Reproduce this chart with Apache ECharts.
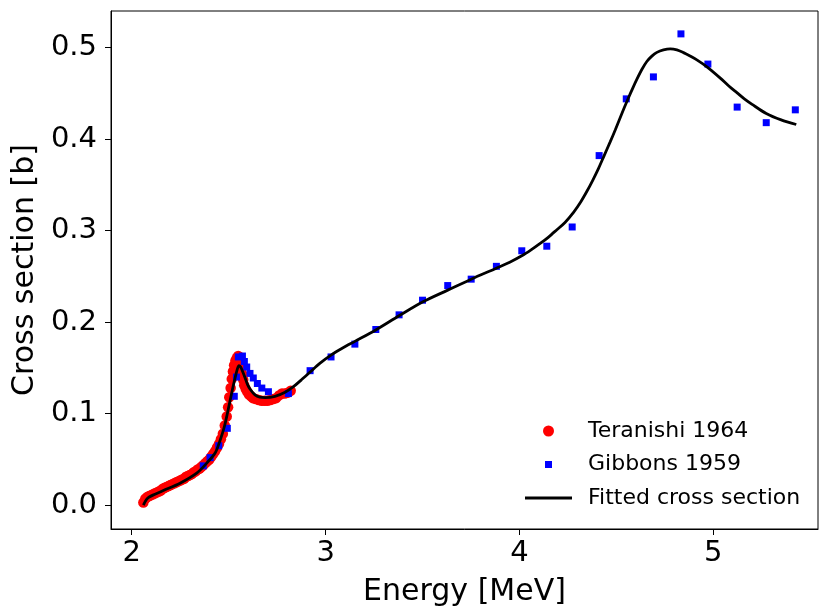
<!DOCTYPE html>
<html>
<head>
<meta charset="utf-8">
<script src="https://cdn.jsdelivr.net/npm/echarts@6/dist/echarts.min.js"></script>
<style>
  html, body { margin: 0; padding: 0; background: #fff; }
  #chart { width: 819px; height: 608px; }
</style>
</head>
<body>
<div id="chart"></div>
<script>
// Teranishi 1964 (red circles)
const teranishiE = [2.060, 2.070, 2.080, 2.090, 2.100, 2.110, 2.120, 2.130, 2.140, 2.150,
  2.160, 2.170, 2.180, 2.190, 2.200, 2.210, 2.220, 2.230, 2.240, 2.250,
  2.260, 2.270, 2.280, 2.290, 2.300, 2.310, 2.320, 2.330, 2.340, 2.350,
  2.360, 2.370, 2.380, 2.390, 2.400, 2.410, 2.420, 2.430, 2.440, 2.450,
  2.460, 2.470, 2.480, 2.490, 2.497, 2.503, 2.510, 2.516, 2.522, 2.528,
  2.535, 2.542, 2.549, 2.556, 2.562, 2.566, 2.570, 2.575, 2.580, 2.588,
  2.596, 2.605, 2.615, 2.625, 2.640, 2.655, 2.670, 2.685, 2.700, 2.715,
  2.730, 2.745, 2.760, 2.775, 2.790, 2.805, 2.820]
const teranishiXS = [0.003, 0.007, 0.009, 0.010, 0.011, 0.012, 0.013, 0.014, 0.015, 0.016,
  0.018, 0.019, 0.020, 0.021, 0.022, 0.023, 0.024, 0.025, 0.026, 0.027,
  0.028, 0.029, 0.031, 0.032, 0.033, 0.034, 0.036, 0.037, 0.039, 0.040,
  0.042, 0.044, 0.046, 0.048, 0.050, 0.053, 0.056, 0.059, 0.063, 0.067,
  0.072, 0.078, 0.087, 0.097, 0.107, 0.118, 0.128, 0.138, 0.146, 0.153,
  0.158, 0.161, 0.163, 0.162, 0.158, 0.150, 0.143, 0.137, 0.131, 0.127,
  0.124, 0.121, 0.119, 0.117, 0.116, 0.115, 0.114, 0.114, 0.114, 0.115,
  0.116, 0.117, 0.120, 0.122, 0.122, 0.123, 0.125]

// Gibbons 1959 (blue squares)
const gibbonsE = [2.369, 2.404, 2.449, 2.493, 2.529, 2.540, 2.550, 2.571, 2.581, 2.593,
  2.610, 2.627, 2.648, 2.671, 2.705, 2.808, 2.920, 3.028, 3.151, 3.259,
  3.379, 3.500, 3.630, 3.751, 3.881, 4.012, 4.141, 4.272, 4.411, 4.551,
  4.691, 4.833, 4.972, 5.123, 5.273, 5.423]
const gibbonsXS = [0.043, 0.052, 0.065, 0.084, 0.119, 0.140, 0.162, 0.163, 0.157, 0.151,
  0.144, 0.139, 0.133, 0.128, 0.124, 0.122, 0.147, 0.162, 0.176, 0.192,
  0.208, 0.224, 0.240, 0.247, 0.261, 0.278, 0.283, 0.304, 0.382, 0.444,
  0.468, 0.515, 0.482, 0.435, 0.418, 0.432]

// Fitted cross section (black line)
const fitE = [2.060, 2.075, 2.090, 2.120, 2.163, 2.249, 2.335, 2.387, 2.430, 2.456,
  2.478, 2.493, 2.507, 2.520, 2.533, 2.545, 2.553, 2.562, 2.572, 2.585,
  2.597, 2.610, 2.636, 2.660, 2.688, 2.739, 2.791, 2.834, 2.875, 2.920,
  2.970, 3.028, 3.090, 3.151, 3.259, 3.379, 3.500, 3.630, 3.751, 3.881,
  3.950, 4.012, 4.060, 4.107, 4.150, 4.193, 4.235, 4.279, 4.315, 4.348,
  4.378, 4.408, 4.438, 4.468, 4.494, 4.520, 4.541, 4.562, 4.584, 4.606,
  4.632, 4.657, 4.683, 4.709, 4.743, 4.778, 4.812, 4.846, 4.880, 4.915,
  4.967, 5.036, 5.080, 5.123, 5.160, 5.200, 5.273, 5.350, 5.428]
const fitXS = [0.000, 0.006, 0.009, 0.012, 0.016, 0.024, 0.035, 0.046, 0.057, 0.071,
  0.086, 0.100, 0.114, 0.127, 0.139, 0.149, 0.1525, 0.151, 0.146, 0.139,
  0.132, 0.127, 0.1205, 0.118, 0.1176, 0.119, 0.1235, 0.1295, 0.137, 0.1455,
  0.155, 0.164, 0.172, 0.179, 0.1915, 0.207, 0.222, 0.235, 0.247, 0.259,
  0.2655, 0.2725, 0.2790, 0.2860, 0.2930, 0.3010, 0.3090, 0.3200, 0.3310, 0.3430,
  0.3550, 0.3680, 0.3825, 0.3970, 0.4100, 0.4236, 0.4345, 0.4450, 0.4555, 0.4655,
  0.4763, 0.4848, 0.4907, 0.4948, 0.4975, 0.4986, 0.4975, 0.4945, 0.4908, 0.4866,
  0.4790, 0.4667, 0.4580, 0.4505, 0.4440, 0.4380, 0.428, 0.421, 0.416]

const xTicks = [2, 3, 4, 5]
const yTicks = [0, 0.1, 0.2, 0.3, 0.4, 0.5]

const zip = (a, b) => a.map((v, i) => [v, b[i]])
const FONT = 'DejaVu Sans'

const chart = echarts.init(document.getElementById('chart'), null, { renderer: 'canvas' })
const option = {
  animation: false,
  backgroundColor: '#fff',
  textStyle: { fontFamily: FONT, color: '#000' },
  grid: {
    left: 111, right: 1, top: 11, bottom: 79,
    outerBoundsMode: 'none',
    containLabel: false,
    show: true, borderColor: '#000', borderWidth: 1
  },
  legend: {
    orient: 'vertical',
    left: 525,
    top: 420,
    padding: 0,
    itemWidth: 47,
    itemHeight: 11,
    itemGap: 11.5,
    textStyle: { fontFamily: FONT, fontSize: 22, color: '#000', padding: [0, 0, 0, 11] },
    data: [
      { name: 'Teranishi 1964', icon: 'circle' },
      { name: 'Gibbons 1959', icon: 'path://M0,0M2,2L9,2L9,9L2,9ZM11,11' },
      { name: 'Fitted cross section', icon: 'path://M0,0L47,0L47,2.8L0,2.8Z' }
    ]
  },
  xAxis: {
    type: 'value',
    min: 1.893,
    max: 5.54,
    name: 'Energy [MeV]',
    nameLocation: 'middle',
    nameGap: 48,
    nameTextStyle: { fontFamily: FONT, fontSize: 30, color: '#000' },
    axisLine: { show: true, onZero: false, lineStyle: { color: '#000', width: 1 } },
    axisTick: { show: true, length: 6, customValues: xTicks, lineStyle: { color: '#000' } },
    axisLabel: { customValues: xTicks, fontSize: 29, color: '#000', margin: 10, fontFamily: FONT },
    splitLine: { show: false }
  },
  yAxis: {
    type: 'value',
    min: -0.026,
    max: 0.54,
    name: 'Cross section [b]',
    nameLocation: 'middle',
    nameGap: 69,
    nameTextStyle: { fontFamily: FONT, fontSize: 30, color: '#000' },
    axisLine: { show: true, onZero: false, lineStyle: { color: '#000', width: 1 } },
    axisTick: { show: true, length: 6, customValues: yTicks, lineStyle: { color: '#000' } },
    axisLabel: {
      customValues: yTicks, fontSize: 29, color: '#000', margin: 14, fontFamily: FONT,
      formatter: v => v.toFixed(1)
    },
    splitLine: { show: false }
  },
  series: [
    {
      name: 'Teranishi 1964',
      type: 'scatter',
      symbol: 'circle',
      symbolSize: 10.5,
      itemStyle: { color: '#ff0000', opacity: 1 },
      data: zip(teranishiE, teranishiXS),
      z: 2
    },
    {
      name: 'Gibbons 1959',
      type: 'scatter',
      symbol: 'rect',
      symbolSize: 7,
      itemStyle: { color: '#0000ff', opacity: 1 },
      data: zip(gibbonsE, gibbonsXS),
      z: 3
    },
    {
      name: 'Fitted cross section',
      type: 'line',
      symbol: 'none',
      showSymbol: false,
      smooth: 0.3,
      lineStyle: { color: '#000', width: 2.8 },
      itemStyle: { color: '#000' },
      data: zip(fitE, fitXS),
      z: 4
    }
  ]
}
chart.setOption(option)
</script>
</body>
</html>
